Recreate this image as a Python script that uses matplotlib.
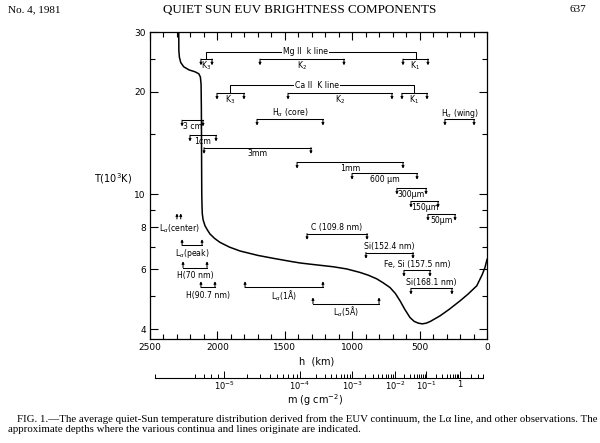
import numpy as np
import matplotlib
matplotlib.use('Agg')
import matplotlib.pyplot as plt
import matplotlib.transforms as mtransforms
from matplotlib.ticker import NullFormatter

# ---------------- data ----------------
# temperature model: height (km) and temperature (10^3 K)
h_km = [2287, 2286, 2282, 2272, 2250, 2210, 2165, 2138, 2126, 2121, 2119, 2118,
        2117, 2116, 2114, 2112, 2106, 2092, 2075, 2055, 2020, 1981, 1910, 1832,
        1700, 1585, 1450, 1387, 1313, 1140, 1040, 942, 880, 818, 770, 720, 680,
        645, 610, 571, 540, 510, 480, 450, 420, 349, 280, 200, 140, 76, 35, 15, 0]
T_kK = [31.0, 26.5, 25.3, 24.4, 23.7, 23.2, 22.9, 22.6, 22.1, 21.0, 18.0, 15.0,
        12.0, 10.0, 9.2, 8.75, 8.4, 8.07, 7.85, 7.63, 7.4, 7.21, 6.98, 6.80,
        6.6, 6.47, 6.33, 6.27, 6.22, 6.11, 6.02, 5.88, 5.77, 5.63, 5.48, 5.31, 5.10,
        4.85, 4.58, 4.33, 4.22, 4.17, 4.15, 4.17, 4.22, 4.38, 4.58, 4.85, 5.08, 5.37, 5.8, 6.08, 6.42]

# simple range brackets
br_labels = ['K$_3$', 'K$_2$', 'K$_1$',
             'K$_3$', 'K$_2$', 'K$_1$',
             'H$_\\alpha$ (core)', 'H$_\\alpha$ (wing)',
             '3 cm', '1cm', '3mm', '1mm', '600 \u03bcm', '300\u03bcm', '150\u03bcm', '50\u03bcm',
             'L$_\\alpha$(peak)', 'H(70 nm)', 'H(90.7 nm)', 'L$_\\alpha$(1\u00c5)', 'L$_\\alpha$(5\u00c5)',
             'C (109.8 nm)', 'Si(152.4 nm)', 'Fe, Si (157.5 nm)', 'Si(168.1 nm)']
br_h_left = [2122, 1684, 623,
             2003, 1476, 631,
             1706, 312,
             2262, 2203, 2099, 1409, 1001, 668, 564, 438,
             2262, 2255, 2122, 1795, 1291,
             1335, 898, 616, 564]
br_h_right = [2040, 1061, 438,
              1803, 705, 445,
              1217, 96,
              2107, 2010, 1306, 623, 519, 452, 363, 237,
              2114, 2077, 2018, 1217, 801,
              890, 549, 423, 260]
br_T = [24.97, 24.97, 24.97,
        19.8, 19.8, 19.8,
        16.6, 16.6,
        16.5, 14.9, 13.7, 12.4, 11.5, 10.4, 9.52, 8.71,
        7.06, 6.08, 5.31, 5.31, 4.76,
        7.65, 6.73, 5.96, 5.28]
br_dir = ['down'] * 16 + ['up'] * 5 + ['down'] * 4
br_text = ['below'] * 6 + ['above'] * 2 + ['below'] * 13 + ['above'] * 4

# line groups (Mg II, Ca II)
grp_labels = ['Mg II  k line', 'Ca II  K line']
grp_h_left = [2081, 1903]
grp_h_right = [530, 538]
grp_T_top = [26.2, 20.9]
grp_T_sub = [24.97, 19.8]

# L-alpha center marker
lac_h = [2300, 2272]
lac_T = 8.45

# column mass axis: decade labels and their heights
m_major = [1e-5, 1e-4, 1e-3, 1e-2, 1e-1, 1.0]
m_major_labels = ['$10^{-5}$', '$10^{-4}$', '$10^{-3}$', '$10^{-2}$', '$10^{-1}$', '1']
m_anchor = [5e-6, 6e-6, 1e-5, 1e-4, 1e-3, 1e-2, 1e-1, 1.0, 4.0]
h_anchor = [2463, 2166, 1951, 1387, 1001, 682, 452, 200, 30]

x_ticks = [2500, 2000, 1500, 1000, 500, 0]
y_ticks = [4, 6, 8, 10, 20, 30]
y_minor = [5, 7, 9, 15, 25]

# ---------------- figure ----------------
plt.rcParams['font.family'] = ['DejaVu Sans']
fig = plt.figure(figsize=(6.0, 4.43), dpi=100)
W, H = 600.0, 443.0
ax = fig.add_axes([150 / W, 1 - 339 / H, 337 / W, 307 / H])
ax.set_xlim(2500, 0)
ax.set_yscale('log')
ax.set_ylim(3.745, 30)
ax.set_xticks(x_ticks, labels=[str(v) for v in x_ticks])
ax.set_xticks(np.arange(0, 2501, 100), minor=True)
ax.set_yticks(y_ticks, labels=[str(v) for v in y_ticks])
ax.set_yticks(y_minor, minor=True)
ax.yaxis.set_minor_formatter(NullFormatter())
ax.tick_params(which='both', direction='in', top=True, right=True, width=0.8,
               labelsize=6.5, pad=3)
ax.tick_params(which='major', length=5.5)
ax.tick_params(which='minor', length=3.5)
for s in ax.spines.values():
    s.set_linewidth(0.9)

ax.plot(h_km, T_kK, color='k', lw=1.1, solid_joinstyle='round')

LW = 0.75
FS = 5.6


def tick_arrow(h, T, dy):
    trans = ax.transData + mtransforms.ScaledTranslation(0, dy / 72.0, fig.dpi_scale_trans)
    ax.annotate('', xy=(h, T), xycoords=trans, xytext=(h, T), textcoords='data',
                arrowprops=dict(arrowstyle='-|>', lw=LW, color='k', mutation_scale=3.5,
                                shrinkA=0, shrinkB=0))


for lab, h1, h2, T, d, tp in zip(br_labels, br_h_left, br_h_right, br_T, br_dir, br_text):
    ax.plot([h1, h2], [T, T], color='k', lw=LW)
    dy = -4.5 if d == 'down' else 4.5
    tick_arrow(h1, T, dy)
    tick_arrow(h2, T, dy)
    hc = 0.5 * (h1 + h2)
    if tp == 'above':
        off = 4.5
    else:
        off = -6.0 if d == 'up' else -4.5
    ax.annotate(lab, xy=(hc, T), xytext=(0, off), textcoords='offset points',
                ha='center', va='center', fontsize=FS)

for lab, h1, h2, Tt, Ts in zip(grp_labels, grp_h_left, grp_h_right, grp_T_top, grp_T_sub):
    ax.plot([h1, h1, h2, h2], [Ts, Tt, Tt, Ts], color='k', lw=LW)
    ax.text(0.5 * (h1 + h2) + 40, Tt, lab, ha='center', va='center', fontsize=FS,
            bbox=dict(facecolor='white', edgecolor='none', pad=0.8))

for h in lac_h:
    tick_arrow(h, lac_T, 4.0)
ax.text(np.mean(lac_h), 7.92, 'L$_\\alpha$(center)', ha='center', va='center', fontsize=FS)

fig.text(113 / W, 1 - 179 / H, 'T(10$^3$K)', ha='center', va='center', fontsize=7)
fig.text(317 / W, 1 - 362 / H, 'h  (km)', ha='center', va='center', fontsize=7)

# column mass axis
ax2 = fig.add_axes([150 / W, 1 - 378 / H, 337 / W, 8 / H])
ax2.set_xlim(2500, 0)
ax2.patch.set_visible(False)
for k in ['left', 'right', 'top']:
    ax2.spines[k].set_visible(False)
ax2.spines['bottom'].set_linewidth(0.8)
ax2.spines['bottom'].set_bounds(h_anchor[0], h_anchor[-1])
ax2.set_yticks([])
lm_anchor = np.log10(m_anchor)
h_major_m = np.interp(np.log10(m_major), lm_anchor, h_anchor)
ax2.set_xticks(h_major_m, labels=m_major_labels)
m_minor = [k * 10.0 ** e for e in range(-6, 1) for k in range(2, 10)
           if m_anchor[0] <= k * 10.0 ** e <= m_anchor[-1]] + [m_anchor[0]]
h_minor_m = np.interp(np.log10(m_minor), lm_anchor, h_anchor)
ax2.set_xticks(h_minor_m, minor=True)
ax2.tick_params(which='both', direction='in', width=0.7, labelsize=6.0, pad=1.5)
ax2.tick_params(which='major', length=5)
ax2.tick_params(which='minor', length=3)
fig.text(315 / W, 1 - 400 / H, 'm (g cm$^{-2}$)', ha='center', va='center', fontsize=7)

# page header and caption
serif = ['Liberation Serif', 'DejaVu Serif']
fig.text(8 / W, 1 - 10 / H, 'No. 4, 1981', family=serif, fontsize=8, ha='left', va='center')
fig.text(300 / W, 1 - 10 / H, 'QUIET SUN EUV BRIGHTNESS COMPONENTS', family=serif,
         fontsize=9.4, ha='center', va='center')
fig.text(586 / W, 1 - 10 / H, '637', family=serif, fontsize=8, ha='right', va='center')
fig.text(17 / W, 1 - 419 / H,
         'FIG. 1.\u2014The average quiet-Sun temperature distribution derived from the EUV '
         'continuum, the L\u03b1 line, and other observations. The',
         family=serif, fontsize=7.8, ha='left', va='center')
fig.text(8 / W, 1 - 430 / H,
         'approximate depths where the various continua and lines originate are indicated.',
         family=serif, fontsize=7.8, ha='left', va='center')

fig.savefig('out.png', dpi=100)
